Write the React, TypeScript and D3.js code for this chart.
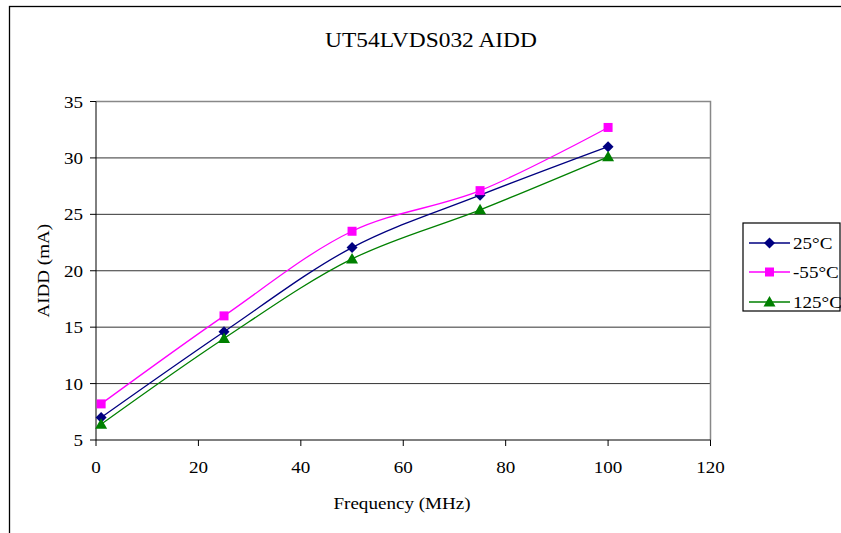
import React from "react";
import * as d3 from "d3";

const frequencies = [1, 25, 50, 75, 100];
const series25 = [7.0, 14.6, 22.05, 26.7, 31.0];
const seriesMinus55 = [8.2, 16.0, 23.5, 27.1, 32.7];
const series125 = [6.4, 14.0, 21.05, 25.4, 30.1];
const xTicks = [0, 20, 40, 60, 80, 100, 120];
const yTicks = [5, 10, 15, 20, 25, 30, 35];
const seriesNames = ["25°C", "-55°C", "125°C"];

const W = 841;
const H = 533;
const FONT = "'Liberation Serif', 'Times New Roman', serif";
const SX = 1.09;

const seriesDefs = [
  { name: seriesNames[0], values: series25, color: "#000080", marker: "diamond" },
  { name: seriesNames[1], values: seriesMinus55, color: "#FF00FF", marker: "square" },
  { name: seriesNames[2], values: series125, color: "#008000", marker: "triangle" },
];

function Marker({ type, x, y, color }: { type: string; x: number; y: number; color: string }) {
  if (type === "square") {
    return <rect x={x - 4.5} y={y - 4.5} width={9} height={9} fill={color} />;
  }
  if (type === "diamond") {
    return (
      <path
        d={`M${x},${y - 5.5}L${x + 5.5},${y}L${x},${y + 5.5}L${x - 5.5},${y}Z`}
        fill={color}
      />
    );
  }
  return (
    <path d={`M${x},${y - 6}L${x + 6},${y + 4.5}L${x - 6},${y + 4.5}Z`} fill={color} />
  );
}

function T({
  x,
  y,
  size,
  anchor = "start",
  rotate = 0,
  children,
}: {
  x: number;
  y: number;
  size: number;
  anchor?: string;
  rotate?: number;
  children: React.ReactNode;
}) {
  return (
    <text
      transform={`translate(${x},${y}) rotate(${rotate}) scale(${SX},1)`}
      textAnchor={anchor as any}
      fontFamily={FONT}
      fontSize={size}
      fill="#000"
    >
      {children}
    </text>
  );
}

export default function App() {
  const left = 96;
  const right = 710.5;
  const top = 101.5;
  const bottom = 440;
  const x = d3.scaleLinear().domain([0, 120]).range([left, right]);
  const y = d3.scaleLinear().domain([5, 35]).range([bottom, top]);

  const line = d3
    .line<[number, number]>()
    .x((d) => x(d[0]))
    .y((d) => y(d[1]))
    .curve(d3.curveCatmullRom.alpha(0.5));

  const legendX = 743;
  const legendY = 223;
  const legendRows = [243, 272, 302];
  const fs = 17.5;

  return (
    <svg
      width={W}
      height={H}
      style={{ position: "absolute", left: 0, top: 0, background: "#fff" }}
    >
      <rect x={0} y={0} width={W} height={H} fill="#fff" />
      {/* outer chart border */}
      <rect x={9.5} y={6.5} width={W + 10} height={H + 10} fill="none" stroke="#000" strokeWidth={1.3} />

      {/* title */}
      <T x={431} y={47} size={21.5} anchor="middle">
        UT54LVDS032 AIDD
      </T>

      {/* gridlines */}
      {yTicks.slice(1, -1).map((t) => (
        <line key={"g" + t} x1={left} x2={right} y1={y(t)} y2={y(t)} stroke="#333" strokeWidth={1} />
      ))}
      {/* plot area border (top, right) */}
      <path d={`M${left},${top}H${right}V${bottom}`} fill="none" stroke="#888" strokeWidth={1.5} />

      {/* axes */}
      <line x1={left} x2={left} y1={top} y2={bottom} stroke="#000" strokeWidth={1} />
      <line x1={left} x2={right} y1={bottom} y2={bottom} stroke="#000" strokeWidth={1} />
      {yTicks.map((t) => (
        <g key={"y" + t}>
          <line x1={left - 6} x2={left} y1={y(t)} y2={y(t)} stroke="#000" />
          <T x={left - 13} y={y(t) + 6} size={fs} anchor="end">
            {t}
          </T>
        </g>
      ))}
      {xTicks.map((t) => (
        <g key={"x" + t}>
          <line x1={x(t)} x2={x(t)} y1={bottom} y2={bottom + 6} stroke="#000" />
          <T x={x(t)} y={bottom + 33} size={fs} anchor="middle">
            {t}
          </T>
        </g>
      ))}

      {/* axis titles */}
      <T x={49} y={(top + bottom) / 2} size={fs} anchor="middle" rotate={-90}>
        AIDD (mA)
      </T>
      <T x={402} y={509} size={fs} anchor="middle">
        Frequency (MHz)
      </T>

      {/* series */}
      {seriesDefs.map((s) => {
        const pts: [number, number][] = frequencies.map((f, i) => [f, s.values[i]]);
        return (
          <g key={s.name}>
            <path d={line(pts) || ""} fill="none" stroke={s.color} strokeWidth={1.3} />
            {pts.map((p, i) => (
              <Marker key={i} type={s.marker} x={x(p[0])} y={y(p[1])} color={s.color} />
            ))}
          </g>
        );
      })}

      {/* legend */}
      <rect x={legendX} y={legendY} width={97} height={88} fill="#fff" stroke="#000" strokeWidth={1.2} />
      {seriesDefs.map((s, i) => (
        <g key={"l" + s.name}>
          <line x1={749} x2={790} y1={legendRows[i]} y2={legendRows[i]} stroke={s.color} strokeWidth={1.3} />
          <Marker type={s.marker} x={769.5} y={legendRows[i]} color={s.color} />
          <T x={793} y={legendRows[i] + 6} size={fs}>
            {s.name}
          </T>
        </g>
      ))}
    </svg>
  );
}
